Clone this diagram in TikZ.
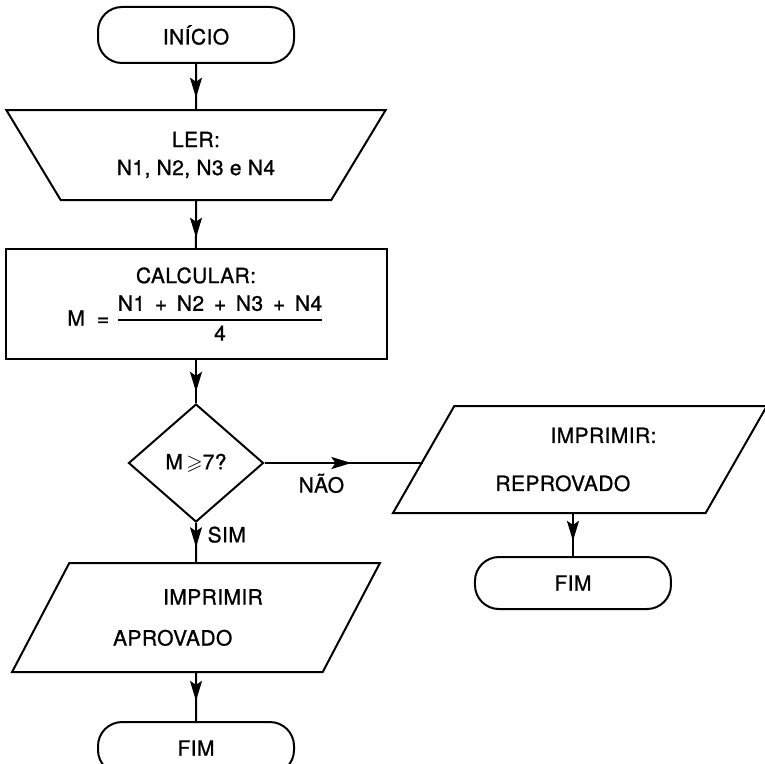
\documentclass[tikz,border=0pt]{standalone}
\usepackage{amsmath,amssymb}
\usepackage{fontspec}
\setmainfont[LetterSpace=2,FakeBold=1]{TeX Gyre Heros}
\usepackage{tikz}
\usetikzlibrary{positioning,arrows.meta,shapes.geometric}
\usetikzlibrary{decorations.markings}
\tikzset{
  terminal/.style={draw=black, line width=1pt, rectangle, rounded corners=12pt,
    minimum width=98pt, minimum height=26pt},
  entrada/.style={draw=black, line width=1pt, trapezium, trapezium left angle=120,
    trapezium right angle=120, trapezium stretches=true, align=center,
    minimum width=190pt, minimum height=45pt},
  processo/.style={draw=black, line width=1pt, rectangle, align=center,
    minimum width=190.5pt, minimum height=55pt},
  decisao/.style={draw=black, line width=1pt, diamond, inner sep=0pt,
    minimum width=67.5pt, minimum height=59pt},
  saida/.style={draw=black, line width=1pt, trapezium, trapezium left angle=60,
    trapezium right angle=120, trapezium stretches=true, align=left,
    minimum width=184pt, minimum height=54.5pt},
  fluxo/.style={line width=1pt, draw=black, postaction={decorate},
    decoration={markings,mark=at position #1 with {\arrow{Stealth[length=10pt,width=6pt,inset=2pt]}}}},
  fluxo/.default=0.75
}
\begin{document}
\begin{tikzpicture}[node distance=22pt and 79pt, font=\fontsize{10.5pt}{13pt}\selectfont]
    \useasboundingbox (0,0) rectangle (382pt,-382pt);
    \node[terminal, minimum height=28pt] (inicio) at (98pt,-17.5pt) {INÍCIO};
    \node[entrada, below=22.5pt of inicio] (ler) {LER:\\[1pt]N1, N2, N3 e N4};
    \node[processo, below=23.5pt of ler] (calc)
      {CALCULAR:\\[5pt]M\; = $\genfrac{}{}{0.8pt}{0}{\text{N1\ \,+\ \,N2\ \,+\ \,N3\ \,+\ \,N4}}{\text{4}}$};
    \node[decisao, below=21.5pt of calc] (teste) {M\,$\boldsymbol{\geqslant}$7?};
    \node[saida, below=19.5pt of teste] (aprov) {\hspace*{25pt}IMPRIMIR\hspace*{8pt}\\[7.5pt]APROVADO};
    \node[terminal, below=24pt of aprov] (fim1) {FIM};

    \node[saida, minimum width=187pt, minimum height=53.5pt, right=79pt of teste, yshift=1.75pt] (reprov)
      {\hspace*{27.5pt}IMPRIMIR:\hspace*{4pt}\\[11pt]REPROVADO};
    \node[terminal, below=21pt of reprov, xshift=-3.5pt] (fim2) {FIM};

    \draw[fluxo]     (inicio) -- (ler);
    \draw[fluxo=.78] (ler) -- (calc);
    \draw[fluxo=.74] (calc) -- (teste);
    \draw[fluxo=.62] (teste) -- node[right=2pt, pos=.3] {SIM} (aprov);
    \draw[fluxo=.58] (aprov) -- (fim1);
    \draw[fluxo=.55] (teste.east) -- node[below=1.5pt, pos=.36] {NÃO} (teste.east -| reprov.west);
    \draw[fluxo=.64] (reprov.south -| fim2.north) -- (fim2.north);
\end{tikzpicture}
\end{document}
